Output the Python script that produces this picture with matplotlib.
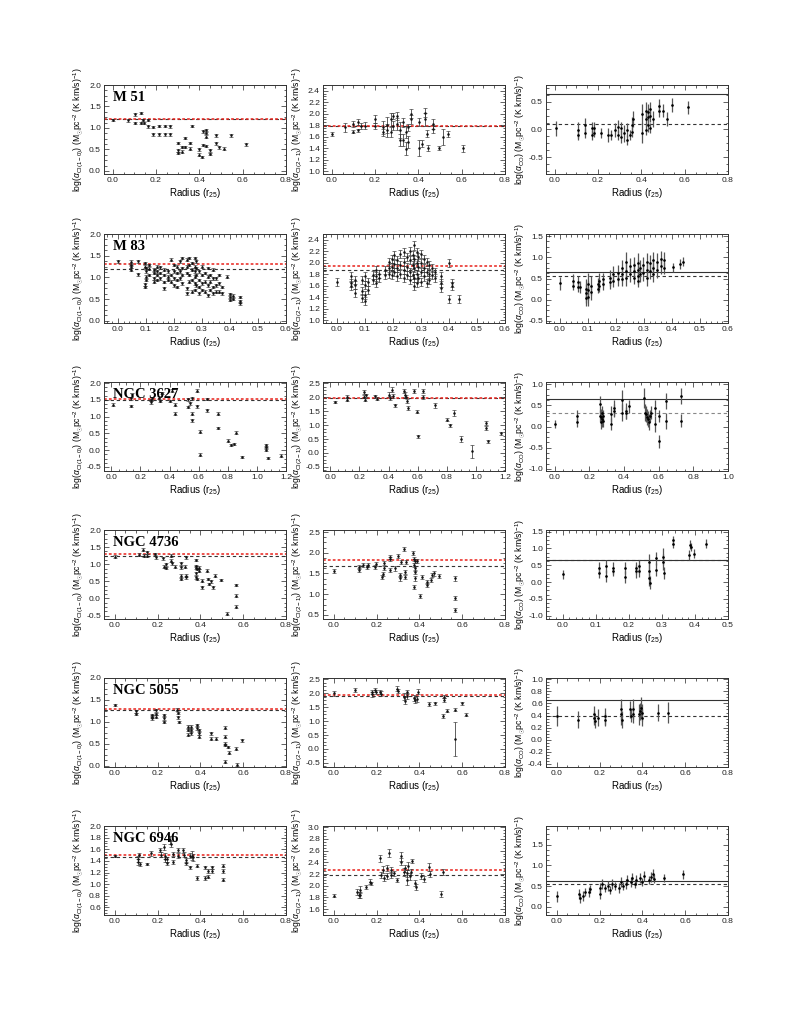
import matplotlib
matplotlib.use('Agg')
import matplotlib.pyplot as plt
from matplotlib.ticker import MultipleLocator, AutoMinorLocator, FormatStrFormatter

plt.rcParams['font.family'] = ['Liberation Sans', 'DejaVu Sans']
plt.rcParams['mathtext.fontset'] = 'custom'
plt.rcParams['mathtext.rm'] = 'Liberation Sans'
plt.rcParams['mathtext.it'] = 'Liberation Sans:italic'
plt.rcParams['mathtext.bf'] = 'Liberation Sans:bold'

galaxies = ['M 51', 'M 83', 'NGC 3627', 'NGC 4736', 'NGC 5055', 'NGC 6946']

# ---------------- M 51 ----------------
m51_ci10 = [(0.0,1.19),(0.069,1.18),(0.105,1.32),(0.105,1.12),(0.131,1.35),(0.131,1.12),
            (0.142,1.19),(0.146,1.12),(0.162,1.19),(0.162,1.04),(0.188,1.02),(0.188,0.85),
            (0.215,1.05),(0.215,0.85),(0.243,1.05),(0.243,0.85),(0.266,1.04),(0.266,0.85),
            (0.30,0.65),(0.30,0.48),(0.30,0.42),(0.32,0.56),(0.32,0.45),(0.335,0.77),(0.335,0.56),
            (0.357,0.65),(0.357,0.52),(0.366,1.05),(0.40,0.38),(0.40,0.50),(0.41,0.33),(0.415,0.92),
            (0.418,0.60),(0.43,0.95),(0.43,0.88),(0.43,0.80),(0.43,0.58),(0.45,0.48),(0.45,0.40),
            (0.477,0.83),(0.477,0.64),(0.49,0.55),(0.515,0.52),(0.546,0.83),(0.615,0.62)]
m51_ci10_err = [0.03, 0.1]
m51_ci21 = [(0.0,1.65),(0.062,1.76),(0.10,1.82),(0.10,1.69),(0.123,1.85),(0.123,1.71),(0.134,1.78),
            (0.154,1.79),(0.20,1.90),(0.20,1.78),(0.238,1.76),(0.238,1.68),(0.254,1.80),(0.254,1.71),
            (0.272,1.90),(0.272,1.68),(0.282,1.96),(0.282,1.79),(0.30,1.96),(0.30,1.82),(0.315,1.71),
            (0.315,1.54),(0.331,1.85),(0.331,1.54),(0.342,1.68),(0.342,1.39),(0.354,1.76),(0.354,1.51),
            (0.365,1.90),(0.365,2.00),(0.405,1.85),(0.405,1.40),(0.415,1.48),(0.431,2.02),(0.431,1.90),
            (0.438,1.65),(0.446,1.40),(0.469,1.82),(0.469,1.73),(0.497,1.40),(0.515,1.59),(0.538,1.65),
            (0.608,1.40)]
m51_ci21_err = [0.03,0.07,0.05,0.03,0.05,0.03,0.05,0.06,0.07,0.05,0.11,0.06,0.14,0.11,0.11,0.08,
                0.06,0.08,0.07,0.11,0.14,0.11,0.08,0.11,0.11,0.11,0.06,0.11,0.08,0.08,0.07,0.14,
                0.06,0.08,0.11,0.06,0.05,0.08,0.07,0.03,0.14,0.05,0.06]
m51_co = [(0.005,0.02),(0.108,-0.01),(0.108,-0.10),(0.142,0.08),(0.142,-0.07),(0.17,0.02),(0.17,-0.10),
          (0.182,0.02),(0.182,-0.07),(0.213,-0.07),(0.247,-0.10),(0.262,-0.10),(0.28,-0.01),(0.293,0.05),
          (0.293,-0.10),(0.308,0.02),(0.308,-0.13),(0.32,-0.07),(0.336,-0.01),(0.336,-0.19),(0.347,-0.10),
          (0.358,0.08),(0.358,-0.04),(0.363,0.19),(0.404,0.28),(0.404,-0.07),(0.42,0.34),(0.42,0.19),
          (0.42,-0.01),(0.432,0.31),(0.432,0.22),(0.432,0.08),(0.44,0.37),(0.44,0.25),(0.44,0.03),
          (0.455,0.19),(0.48,0.43),(0.48,0.34),(0.50,0.34),(0.52,0.19),(0.543,0.44),(0.614,0.40)]
m51_co_err = [0.13,0.15,0.09,0.12,0.09,0.12,0.09,0.12,0.07,0.09,0.12,0.09,0.12,0.12,0.09,0.12,0.12,
              0.15,0.12,0.09,0.09,0.15,0.09,0.15,0.18,0.18,0.15,0.12,0.09,0.15,0.12,0.12,0.12,0.12,
              0.09,0.15,0.12,0.12,0.12,0.12,0.12,0.12]

# ---------------- M 83 ----------------
m83_ci10 = [(0.0,1.37),(0.045,1.36),(0.045,1.29),(0.045,1.25),(0.045,1.18),(0.07,1.37),(0.07,1.07),
            (0.095,1.33),(0.095,1.25),(0.095,0.84),(0.095,0.78),(0.10,1.22),(0.10,1.14),(0.10,1.02),
            (0.10,0.94),(0.11,1.29),(0.11,1.20),(0.11,1.06),(0.13,1.18),(0.13,1.10),(0.13,0.98),
            (0.13,0.90),(0.14,1.25),(0.14,1.14),(0.14,1.06),(0.14,0.94),(0.15,1.23),(0.15,1.10),
            (0.15,0.98),(0.165,1.18),(0.165,1.06),(0.165,0.89),(0.165,0.75),(0.18,1.14),(0.18,1.02),
            (0.18,0.94),(0.19,1.41),(0.19,1.06),(0.19,0.90),(0.20,1.29),(0.20,1.14),(0.20,0.98),
            (0.20,0.82),(0.21,1.25),(0.21,1.10),(0.21,0.94),(0.21,0.78),(0.22,1.37),(0.22,1.14),
            (0.22,0.98),(0.23,1.45),(0.23,1.22),(0.23,1.06),(0.23,0.86),(0.245,1.41),(0.245,1.25),
            (0.245,1.10),(0.245,0.75),(0.245,0.63),(0.255,1.45),(0.255,1.29),(0.255,1.06),(0.255,0.90),
            (0.265,1.33),(0.265,1.18),(0.265,0.94),(0.265,0.67),(0.275,1.45),(0.275,1.25),(0.275,1.14),
            (0.275,1.02),(0.275,0.86),(0.275,0.71),(0.28,1.37),(0.28,1.22),(0.28,1.06),(0.28,0.82),
            (0.29,1.14),(0.29,0.94),(0.29,0.78),(0.29,0.63),(0.30,1.25),(0.30,1.06),(0.30,0.86),
            (0.30,0.71),(0.31,1.10),(0.31,0.90),(0.31,0.67),(0.32,1.22),(0.32,1.02),(0.32,0.82),
            (0.32,0.59),(0.33,1.06),(0.33,0.90),(0.33,0.71),(0.34,1.18),(0.34,0.98),(0.34,0.78),
            (0.34,0.63),(0.35,0.98),(0.35,0.82),(0.35,0.67),(0.36,1.06),(0.36,0.86),(0.36,0.67),
            (0.37,0.78),(0.37,0.63),(0.39,1.02),(0.40,0.62),(0.40,0.55),(0.40,0.48),(0.41,0.58),
            (0.41,0.50),(0.435,0.55),(0.435,0.45),(0.435,0.40)]
m83_ci10_err = [0.03, 0.1]
m83_ci21 = [(0.0,1.67),(0.05,1.76),(0.05,1.64),(0.05,1.59),(0.065,1.70),(0.065,1.61),(0.065,1.47),
            (0.09,1.70),(0.09,1.50),(0.09,1.38),(0.10,1.76),(0.10,1.61),(0.10,1.44),(0.10,1.33),
            (0.11,1.67),(0.11,1.53),(0.13,1.79),(0.13,1.70),(0.14,1.87),(0.14,1.76),(0.14,1.64),
            (0.15,1.81),(0.15,1.73),(0.17,1.87),(0.17,1.79),(0.185,2.01),(0.185,1.90),(0.185,1.81),
            (0.195,2.07),(0.195,1.93),(0.195,1.79),(0.205,2.13),(0.205,1.98),(0.205,1.84),(0.215,2.04),
            (0.215,1.90),(0.215,1.76),(0.225,2.16),(0.225,1.96),(0.225,1.81),(0.24,2.18),(0.24,2.01),
            (0.24,1.87),(0.24,1.73),(0.25,2.10),(0.25,1.93),(0.25,1.79),(0.26,2.21),(0.26,2.04),
            (0.26,1.84),(0.26,1.70),(0.27,2.13),(0.27,1.96),(0.27,1.79),(0.275,2.30),(0.275,2.07),
            (0.275,1.90),(0.275,1.73),(0.275,1.59),(0.285,2.18),(0.285,1.99),(0.285,1.81),(0.285,1.64),
            (0.29,2.10),(0.29,1.93),(0.29,1.73),(0.30,2.16),(0.30,1.99),(0.30,1.84),(0.30,1.67),
            (0.31,2.07),(0.31,1.90),(0.31,1.76),(0.32,2.01),(0.32,1.84),(0.32,1.64),(0.33,1.96),
            (0.33,1.81),(0.33,1.70),(0.34,1.90),(0.34,1.79),(0.35,1.84),(0.35,1.73),(0.37,1.76),
            (0.37,1.64),(0.37,1.56),(0.40,1.99),(0.41,1.64),(0.41,1.59),(0.40,1.36),(0.435,1.36)]
m83_ci21_err = [0.07, 0.1]
m83_co = [(0.0,0.39),(0.047,0.45),(0.047,0.33),(0.063,0.41),(0.063,0.30),(0.07,0.30),(0.093,0.26),
          (0.093,0.15),(0.093,0.03),(0.10,0.37),(0.10,0.22),(0.10,0.07),(0.11,0.33),(0.11,0.18),
          (0.135,0.37),(0.135,0.26),(0.14,0.45),(0.14,0.33),(0.153,0.48),(0.153,0.37),(0.177,0.52),
          (0.177,0.41),(0.19,0.60),(0.19,0.45),(0.207,0.64),(0.207,0.48),(0.222,0.75),(0.222,0.60),
          (0.222,0.48),(0.237,0.90),(0.237,0.67),(0.237,0.52),(0.249,0.79),(0.249,0.60),(0.263,0.82),
          (0.263,0.67),(0.263,0.52),(0.279,0.86),(0.279,0.71),(0.279,0.56),(0.279,0.45),(0.287,0.75),
          (0.287,0.60),(0.297,0.82),(0.297,0.64),(0.309,0.90),(0.309,0.71),(0.309,0.52),(0.321,0.86),
          (0.321,0.67),(0.333,0.94),(0.333,0.75),(0.333,0.60),(0.345,0.90),(0.345,0.71),(0.359,0.97),
          (0.359,0.79),(0.371,0.94),(0.371,0.75),(0.405,0.76),(0.43,0.84),(0.44,0.90)]
m83_co_err = [0.15,0.15,0.11,0.15,0.11,0.15,0.23,0.23,0.19,0.26,0.23,0.23,0.23,0.19,0.15,0.11,0.19,
              0.15,0.15,0.15,0.19,0.15,0.19,0.15,0.19,0.15,0.19,0.15,0.15,0.23,0.19,0.19,0.19,0.19,
              0.19,0.19,0.15,0.23,0.23,0.19,0.15,0.19,0.19,0.19,0.19,0.19,0.19,0.19,0.19,0.19,0.19,
              0.19,0.19,0.19,0.19,0.19,0.19,0.19,0.15,0.11,0.11,0.11]

# ---------------- NGC 3627 ----------------
n3627_ci10 = [(0.011,1.36),(0.136,1.54),(0.136,1.32),(0.272,1.49),(0.276,1.42),(0.28,1.54),(0.33,1.56),
              (0.335,1.46),(0.35,1.70),(0.40,1.46),(0.42,1.77),(0.44,1.36),(0.44,1.09),(0.53,1.51),
              (0.53,1.29),(0.543,1.39),(0.555,1.54),(0.555,1.09),(0.555,0.89),(0.59,1.77),(0.59,1.31),
              (0.61,0.55),(0.61,-0.13),(0.656,1.52),(0.656,1.19),(0.736,1.09),(0.736,0.66),(0.80,0.28),
              (0.82,0.15),(0.84,0.18),(0.856,0.52),(0.90,-0.20),(1.064,0.14),(1.064,0.02),(1.064,0.08),
              (1.075,-0.23),(1.166,-0.16)]
n3627_ci10_err = [0.04, 0.1]
n3627_ci21 = [(0.035,1.83),(0.113,2.02),(0.113,1.92),(0.235,2.19),(0.235,2.02),(0.238,1.92),(0.247,2.07),
              (0.306,2.04),(0.318,1.95),(0.40,2.10),(0.407,1.98),(0.424,2.28),(0.428,2.04),(0.447,1.71),
              (0.506,2.22),(0.513,2.10),(0.518,2.02),(0.53,1.86),(0.536,1.62),(0.576,2.22),(0.595,1.48),
              (0.60,0.60),(0.635,2.22),(0.64,2.02),(0.718,1.71),(0.80,1.20),(0.819,0.99),(0.847,1.44),
              (0.90,0.50),(0.976,0.06),(1.07,1.08),(1.07,0.90),(1.082,0.42),(1.17,0.70)]
n3627_ci21_err = [0.04,0.05,0.05,0.07,0.06,0.06,0.05,0.06,0.06,0.08,0.06,0.1,0.08,0.06,0.08,0.08,0.06,
                  0.08,0.08,0.08,0.06,0.06,0.08,0.08,0.1,0.06,0.06,0.12,0.1,0.24,0.08,0.06,0.06,0.06]
n3627_co = [(0.0,0.06),(0.129,0.25),(0.129,0.10),(0.26,0.52),(0.26,0.25),(0.265,0.22),(0.265,0.10),
            (0.273,0.33),(0.273,0.18),(0.279,0.25),(0.279,0.14),(0.327,0.29),(0.327,0.06),(0.34,0.44),
            (0.34,0.37),(0.39,0.63),(0.39,0.33),(0.413,0.37),(0.413,0.32),(0.43,0.48),(0.515,0.67),
            (0.519,0.33),(0.529,0.29),(0.531,0.22),(0.538,0.18),(0.542,0.10),(0.548,0.25),(0.554,0.33),
            (0.577,0.44),(0.577,0.06),(0.60,0.25),(0.60,-0.35),(0.643,0.60),(0.644,0.14),(0.727,0.71),
            (0.727,0.14)]
n3627_co_err = [0.09,0.15,0.11,0.19,0.15,0.19,0.15,0.15,0.19,0.15,0.15,0.19,0.15,0.19,0.15,0.23,0.19,
                0.19,0.15,0.15,0.23,0.19,0.19,0.19,0.19,0.19,0.15,0.15,0.19,0.19,0.15,0.15,0.19,0.19,
                0.19,0.15]

# ---------------- NGC 4736 ----------------
n4736_ci10 = [(0.0,1.22),(0.114,1.28),(0.133,1.42),(0.136,1.25),(0.153,1.35),(0.153,1.25),(0.188,1.30),
              (0.192,1.20),(0.226,1.17),(0.23,0.93),(0.238,1.00),(0.238,0.89),(0.263,1.25),(0.263,1.10),
              (0.266,1.03),(0.282,0.93),(0.309,1.03),(0.309,0.91),(0.309,0.67),(0.309,0.57),(0.329,0.93),
              (0.335,1.20),(0.335,0.67),(0.335,0.62),(0.379,1.12),(0.379,0.95),(0.379,0.90),(0.379,0.73),
              (0.379,0.62),(0.386,0.86),(0.386,0.57),(0.394,0.90),(0.394,0.81),(0.41,0.33),(0.41,0.52),
              (0.433,0.81),(0.438,0.57),(0.441,0.42),(0.449,0.50),(0.46,0.33),(0.469,0.67),(0.496,0.54),
              (0.526,-0.45),(0.566,0.39),(0.566,0.08),(0.566,-0.24)]
n4736_ci10_err = [0.04, 0.1]
n4736_ci21 = [(0.0,1.55),(0.117,1.66),(0.117,1.59),(0.137,1.71),(0.156,1.66),(0.159,1.71),(0.195,1.66),
              (0.199,1.72),(0.224,1.42),(0.229,1.48),(0.233,1.64),(0.233,1.76),(0.265,1.85),(0.265,1.89),
              (0.265,1.58),(0.285,1.62),(0.299,1.92),(0.311,1.46),(0.311,1.38),(0.314,1.78),(0.33,2.09),
              (0.335,1.54),(0.335,1.42),(0.339,1.78),(0.37,2.00),(0.373,1.85),(0.375,1.70),(0.378,1.54),
              (0.375,1.18),(0.378,1.38),(0.381,1.81),(0.381,1.62),(0.39,1.80),(0.405,0.95),(0.412,1.42),
              (0.435,1.22),(0.438,1.30),(0.454,1.34),(0.459,1.46),(0.467,1.50),(0.493,1.44),(0.565,1.38),
              (0.568,0.91),(0.568,0.61)]
n4736_ci21_err = [0.05, 0.1]
n4736_co = [(0.0,0.23),(0.11,0.42),(0.11,0.27),(0.132,0.47),(0.132,0.18),(0.152,0.42),(0.152,0.32),
            (0.19,0.42),(0.19,0.15),(0.223,0.42),(0.223,0.32),(0.231,0.47),(0.231,0.34),(0.262,0.61),
            (0.262,0.32),(0.262,0.13),(0.264,-0.02),(0.282,0.71),(0.282,0.37),(0.304,0.76),(0.305,0.61),
            (0.307,0.27),(0.333,1.24),(0.335,1.14),(0.381,0.80),(0.386,1.11),(0.388,1.05),(0.396,0.85),
            (0.434,1.14)]
n4736_co_err = [0.14,0.19,0.14,0.19,0.19,0.19,0.14,0.19,0.19,0.19,0.19,0.19,0.19,0.24,0.24,0.24,0.19,
                0.19,0.19,0.24,0.24,0.19,0.14,0.14,0.14,0.14,0.12,0.14,0.14]

# ---------------- NGC 5055 ----------------
n5055_ci10 = [(0.0,1.38),(0.098,1.24),(0.098,1.18),(0.176,1.16),(0.176,1.12),(0.176,1.08),(0.195,1.26),
              (0.195,1.18),(0.195,1.12),(0.228,1.16),(0.228,1.08),(0.228,1.00),(0.293,1.28),(0.296,1.20),
              (0.296,1.10),(0.298,1.00),(0.34,0.89),(0.34,0.81),(0.34,0.71),(0.355,0.89),(0.355,0.81),
              (0.355,0.74),(0.383,0.93),(0.386,0.85),(0.394,0.81),(0.394,0.74),(0.394,0.66),(0.449,0.74),
              (0.449,0.62),(0.475,0.62),(0.514,0.87),(0.514,0.66),(0.514,0.50),(0.514,0.47),(0.514,0.09),
              (0.531,0.43),(0.535,0.30),(0.566,0.39),(0.569,0.02),(0.594,0.58)]
n5055_ci10_err = [0.03, 0.1]
n5055_ci21 = [(0.0,2.00),(0.101,2.11),(0.179,2.05),(0.179,1.96),(0.194,2.11),(0.199,2.05),(0.218,2.05),
              (0.221,1.99),(0.296,2.17),(0.299,2.08),(0.327,1.88),(0.335,1.73),(0.342,1.91),(0.342,2.05),
              (0.374,1.84),(0.379,1.76),(0.39,1.79),(0.392,2.06),(0.444,1.61),(0.475,1.64),(0.51,1.18),
              (0.513,1.88),(0.515,1.76),(0.529,1.37),(0.565,1.41),(0.565,0.35),(0.60,1.64),(0.617,1.23)]
n5055_ci21_err = [0.08,0.07,0.08,0.08,0.08,0.07,0.08,0.08,0.08,0.08,0.12,0.12,0.1,0.08,0.1,0.1,0.1,0.08,
                  0.06,0.06,0.06,0.06,0.06,0.06,0.06,0.60,0.06,0.05]
n5055_co = [(0.0,0.39),(0.10,0.33),(0.175,0.42),(0.175,0.36),(0.178,0.31),(0.195,0.36),(0.225,0.39),
            (0.225,0.33),(0.30,0.50),(0.30,0.42),(0.303,0.33),(0.344,0.50),(0.347,0.40),(0.358,0.51),
            (0.358,0.42),(0.386,0.42),(0.389,0.47),(0.394,0.53),(0.397,0.45),(0.397,0.36),(0.472,0.45),
            (0.519,0.45)]
n5055_co_err = [0.17,0.14,0.14,0.11,0.11,0.14,0.14,0.11,0.17,0.17,0.14,0.14,0.11,0.17,0.14,0.17,0.14,
                0.17,0.14,0.14,0.14,0.17]

# ---------------- NGC 6946 ----------------
n6946_ci10 = [(0.0,1.48),(0.108,1.38),(0.111,1.44),(0.114,1.50),(0.119,1.35),(0.153,1.35),(0.17,1.53),
              (0.211,1.59),(0.214,1.51),(0.231,1.64),(0.234,1.49),(0.234,1.43),(0.245,1.43),(0.245,1.36),
              (0.258,1.76),(0.261,1.69),(0.273,1.52),(0.273,1.38),(0.296,1.59),(0.296,1.49),(0.319,1.58),
              (0.322,1.51),(0.335,1.41),(0.335,1.36),(0.35,1.49),(0.353,1.29),(0.363,1.49),(0.366,1.46),
              (0.384,1.32),(0.386,1.11),(0.42,1.29),(0.423,1.11),(0.435,1.23),(0.438,1.13),(0.454,1.29),
              (0.455,1.23),(0.505,1.32),(0.505,1.23),(0.505,1.08)]
n6946_ci10_err = [0.02,0.05,0.05,0.04,0.04,0.02,0.04,0.04,0.04,0.05,0.05,0.04,0.04,0.03,0.07,0.05,0.04,
                  0.03,0.04,0.04,0.04,0.04,0.04,0.03,0.04,0.03,0.08,0.06,0.03,0.03,0.03,0.03,0.03,0.03,
                  0.03,0.03,0.03,0.03,0.03]
n6946_ci21 = [(0.0,1.83),(0.111,1.90),(0.116,1.84),(0.124,1.93),(0.124,1.84),(0.150,1.98),(0.17,2.07),
              (0.173,2.04),(0.215,2.47),(0.223,2.19),(0.232,2.27),(0.235,2.13),(0.247,2.30),(0.25,2.16),
              (0.26,2.56),(0.266,2.27),(0.269,2.19),(0.28,2.21),(0.297,2.10),(0.312,2.41),(0.315,2.50),
              (0.328,2.24),(0.331,2.30),(0.34,2.21),(0.343,2.10),(0.346,2.33),(0.357,2.16),(0.36,2.24),
              (0.365,2.42),(0.382,2.04),(0.385,1.98),(0.41,2.17),(0.42,2.12),(0.445,2.32),(0.45,2.20),
              (0.50,1.86),(0.51,2.23)]
n6946_ci21_err = [0.03,0.05,0.05,0.06,0.05,0.04,0.04,0.03,0.06,0.05,0.06,0.05,0.05,0.05,0.07,0.05,0.05,
                  0.05,0.04,0.06,0.07,0.07,0.06,0.06,0.08,0.07,0.06,0.05,0.04,0.05,0.05,0.05,0.05,0.06,
                  0.05,0.05,0.05]
n6946_co = [(0.0,0.25),(0.105,0.30),(0.11,0.20),(0.125,0.25),(0.13,0.35),(0.15,0.35),(0.155,0.42),
            (0.20,0.30),(0.20,0.45),(0.21,0.55),(0.225,0.45),(0.24,0.50),(0.25,0.40),(0.26,0.55),
            (0.27,0.50),(0.29,0.45),(0.30,0.60),(0.31,0.50),(0.325,0.55),(0.33,0.65),(0.345,0.60),
            (0.35,0.70),(0.365,0.55),(0.37,0.65),(0.39,0.70),(0.40,0.60),(0.41,0.75),(0.43,0.65),
            (0.44,0.72),(0.45,0.78),(0.455,0.68),(0.50,0.70),(0.59,0.78)]
n6946_co_err = [0.14,0.12,0.1,0.12,0.1,0.12,0.1,0.12,0.12,0.12,0.1,0.12,0.1,0.12,0.1,0.12,0.12,0.1,
                0.12,0.12,0.12,0.12,0.1,0.12,0.12,0.1,0.12,0.1,0.12,0.12,0.1,0.1,0.1]

# reference lines: CI panels -> (red mean, black mean); CO panels -> (Galactic solid, mean dashed)
ci10_lines = [(1.21, 1.21), (1.31, 1.20), (1.51, 1.50), (1.29, 1.23), (1.29, 1.26), (1.51, 1.47)]
ci21_lines = [(1.79, 1.79), (1.94, 1.87), (1.98, 1.97), (1.83, 1.67), (1.93, 1.91), (2.27, 2.19)]
co_lines = [(0.64, 0.10), (0.65, 0.56), (0.66, 0.33), (0.66, 0.65), (0.65, 0.39), (0.63, 0.55)]

ci10_data = [m51_ci10, m83_ci10, n3627_ci10, n4736_ci10, n5055_ci10, n6946_ci10]
ci10_errs = [m51_ci10_err, m83_ci10_err, n3627_ci10_err, n4736_ci10_err, n5055_ci10_err, n6946_ci10_err]
ci21_data = [m51_ci21, m83_ci21, n3627_ci21, n4736_ci21, n5055_ci21, n6946_ci21]
ci21_errs = [m51_ci21_err, m83_ci21_err, n3627_ci21_err, n4736_ci21_err, n5055_ci21_err, n6946_ci21_err]
co_data = [m51_co, m83_co, n3627_co, n4736_co, n5055_co, n6946_co]
co_errs = [m51_co_err, m83_co_err, n3627_co_err, n4736_co_err, n5055_co_err, n6946_co_err]

# axis ranges: (xlim, xstep, ylim, ystep) per row and column
ranges = [
    [((-0.04, 0.8), 0.2, (-0.07, 2.0), 0.5), ((-0.04, 0.8), 0.2, (0.95, 2.5), 0.2), ((-0.04, 0.8), 0.2, (-0.8, 0.8), 0.5)],
    [((-0.05, 0.6), 0.1, (-0.05, 2.0), 0.5), ((-0.05, 0.6), 0.1, (0.95, 2.5), 0.2), ((-0.05, 0.6), 0.1, (-0.55, 1.55), 0.5)],
    [((-0.05, 1.2), 0.2, (-0.62, 2.03), 0.5), ((-0.05, 1.2), 0.2, (-0.65, 2.55), 0.5), ((-0.05, 1.0), 0.2, (-1.05, 1.05), 0.5)],
    [((-0.05, 0.8), 0.2, (-0.6, 2.0), 0.5), ((-0.05, 0.8), 0.2, (0.4, 2.55), 0.5), ((-0.05, 0.5), 0.1, (-1.1, 1.55), 0.5)],
    [((-0.05, 0.8), 0.2, (-0.03, 2.0), 0.5), ((-0.05, 0.8), 0.2, (-0.65, 2.55), 0.5), ((-0.05, 0.8), 0.2, (-0.45, 1.02), 0.2)],
    [((-0.05, 0.8), 0.2, (0.47, 2.001), 0.2), ((-0.05, 0.8), 0.2, (1.5, 3.02), 0.2), ((-0.05, 0.8), 0.2, (-0.2, 1.95), 0.5)],
]

ylabels = [r'log($\alpha_{\rm CI(1-0)}$) (M$_{\odot}$pc$^{-2}$ (K km/s)$^{-1}$)',
           r'log($\alpha_{\rm CI(2-1)}$) (M$_{\odot}$pc$^{-2}$ (K km/s)$^{-1}$)',
           r'log($\alpha_{\rm CO}$) (M$_{\odot}$pc$^{-2}$ (K km/s)$^{-1}$)']

W, H = 789, 1021
fig = plt.figure(figsize=(W / 100, H / 100), dpi=100)
col_left = [104, 323, 546]
panel_w = 182
row_top = [85, 234, 382, 530, 678, 826]
panel_h = 89


def style_axis(ax, rng):
    xlim, xstep, ylim, ystep = rng
    ax.set_xlim(*xlim)
    ax.set_ylim(*ylim)
    ax.xaxis.set_major_locator(MultipleLocator(xstep))
    ax.yaxis.set_major_locator(MultipleLocator(ystep))
    ax.xaxis.set_minor_locator(AutoMinorLocator(5 if xstep == 0.1 else 4))
    ax.yaxis.set_minor_locator(AutoMinorLocator(5 if ystep == 0.1 else 4))
    ax.xaxis.set_major_formatter(FormatStrFormatter('%.1f'))
    ax.yaxis.set_major_formatter(FormatStrFormatter('%.1f'))
    ax.tick_params(which='both', direction='in', top=True, right=True, labelsize=6.1,
                   width=0.5, colors='#222222', pad=2.2)
    ax.tick_params(which='major', length=3.5)
    ax.tick_params(which='minor', length=1.8)
    for sp in ax.spines.values():
        sp.set_linewidth(0.7)
        sp.set_color('#333333')
    ax.set_xlabel(r'Radius (r$_{25}$)', fontsize=7, labelpad=1.5)


def unzip(pairs):
    return [p[0] for p in pairs], [p[1] for p in pairs]


for i in range(6):
    for j in range(3):
        l = col_left[j] / W
        b = 1 - (row_top[i] + panel_h) / H
        ax = fig.add_axes([l, b, panel_w / W, panel_h / H])
        style_axis(ax, ranges[i][j])
        ax.set_ylabel(ylabels[j], fontsize=6.2)
        ax.yaxis.set_label_coords(-0.102, 0.5)
        if j < 2:
            data = ci10_data[i] if j == 0 else ci21_data[i]
            err = ci10_errs[i] if j == 0 else ci21_errs[i]
            lines = ci10_lines[i] if j == 0 else ci21_lines[i]
            r, v = unzip(data)
            if len(err) == len(r):
                e = err
            else:
                e = err[0]
            ax.axhline(lines[1], color='#333333', lw=0.8, ls=(0, (3, 2.5)), zorder=1)
            ax.axhline(lines[0], color='#e8221b', lw=1.1, ls=(0, (1.8, 1.4)), zorder=1.5)
            ax.errorbar(r, v, yerr=e, fmt='o', ms=0.8, mfc='#111111', mec='#111111', ecolor='#333333',
                        elinewidth=0.55, capsize=1.1, capthick=0.45, zorder=3)
            if j == 0:
                ax.text(0.05, 0.93, galaxies[i], transform=ax.transAxes, ha='left', va='top',
                        fontsize=10.5, fontweight='bold', family=['Liberation Serif', 'DejaVu Serif'])
        else:
            r, v = unzip(co_data[i])
            lines = co_lines[i]
            dash_col = '#888888' if i == 2 else '#333333'
            ax.axhline(lines[0], color='#333333', lw=0.8, zorder=1)
            ax.axhline(lines[1], color=dash_col, lw=0.8, ls=(0, (3, 2.5)), zorder=1)
            ax.errorbar(r, v, yerr=co_errs[i], fmt='o', ms=0.9, mfc='k', mec='k', ecolor='#555555',
                        elinewidth=0.9, capsize=0, zorder=3)

fig.savefig('out.png', dpi=100)
